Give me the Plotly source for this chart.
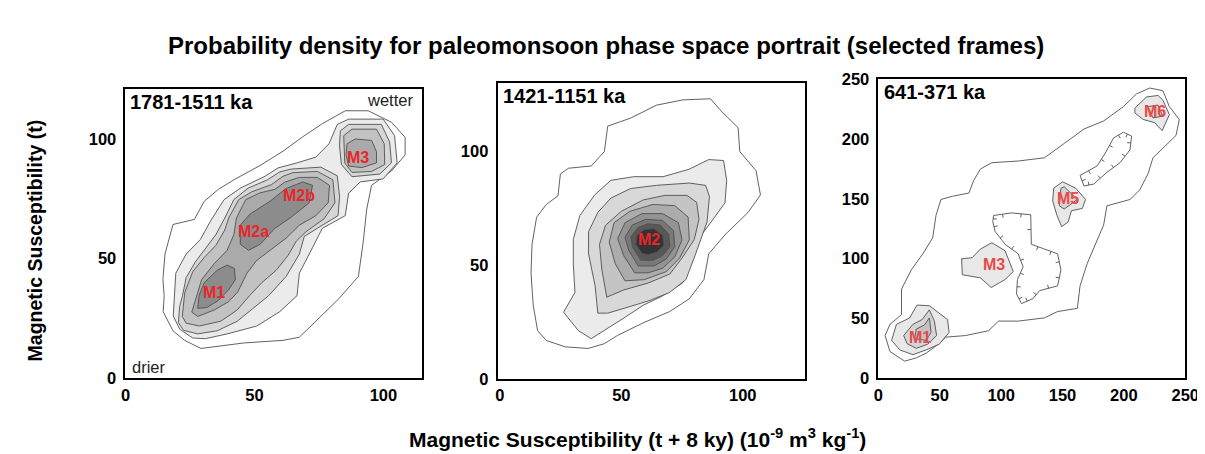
import plotly.graph_objects as go

# ---------------- DATA ----------------
# Panel 1: 1781-1511 ka  (contour outlines, outermost -> innermost)
P1_L1 = [(29.3,12.4),(22.9,15.8),(18.4,19.8),(14.6,27.8),(15.0,34.5),(14.5,41.2),(15.3,51.9),(18.4,64.3),
         (26.7,66.4),(30.5,74),(36,79),(42,83),(52.2,89),(61.1,95),(68.7,101),(76.3,106.5),(85.2,111.9),
         (94.1,111.9),(103.1,107.1),(108.4,100.8),(108.4,93.4),(103.1,86.7),(95.4,80.7),(93.5,70.7),
         (92.2,57.3),(90.3,42.6),(82.7,33.2),(73.8,23.8),(67.4,17.1),(61.1,15.8),(45.8,14.7)]
P1_L2 = [(26,16.8),(21,20.5),(18.5,26),(19,34.5),(19.5,43.9),(23.5,51.9),(29,58),(33.1,66),(38.2,74.7),
         (44.5,79.5),(54.1,84.5),(59.2,88),(66.2,90),(73.8,92.5),(78.9,98.1),(82.1,106.2),(86.5,108.4),
         (99.9,108.4),(104.3,101.5),(105.3,90.1),(99.9,83.4),(91,82.1),(86.5,77.4),(85.2,68),(76.3,62.7),
         (72.5,54.6),(67.4,43.9),(66.5,34.5),(59.8,27.8),(50.9,21.8),(39.4,18.5),(31,16.5)]
P1_L3 = [(20.5,23.2),(21,30),(22.1,34.5),(23.5,42),(27,48.5),(31,54),(35,60),(38.5,67),(42,74.7),
         (47.5,79.5),(55,83),(59.8,86.3),(64.2,87.5),(75.7,88.3),(82.1,84.7),(83,76),(82.4,68),(76.3,64),
         (69.3,59.3),(67.4,51.9),(62.3,42.6),(55.5,34.5),(49.6,29.2),(43.3,23.8),(35.6,19.8),(28,18.5),(22.5,20)]
P1_L3_M3 = [(83.3,103.5),(86.5,106.2),(99.2,106.2),(102.4,98.8),(103.1,90.1),(98.6,85.4),(87.8,84.3),
            (83.7,89.4),(82.95,97.5)]
P1_L4 = [(22,25.8),(23,35.9),(26.1,44.6),(30.5,50.5),(35,55.5),(38.5,62),(40,67),(43.9,74.7),(49,78),
         (56.6,81),(61.1,84.5),(64.9,86),(74.4,86.5),(80.4,83),(81.2,73.4),(77,66.7),(70,61.3),(66.2,57.3),
         (63,51.3),(58.5,45.2),(52.8,39.9),(48.1,34.5),(43.3,28.5),(36.9,23.8),(28.6,21.8),(23.5,23)]
P1_L4_M3 = [(84.6,101.5),(87.8,104.2),(97.3,104.2),(100.3,98.1),(100.5,89.4),(95.4,86.5),(87.8,86.1),(85.0,90.1)]
P1_L5 = [(25.7,27.6),(27.5,34.5),(29.5,41.2),(34.4,47.9),(39.4,53.5),(42,60),(43,67),(46.6,74.7),(52,77.5),
         (57.9,79),(61.7,82),(67.4,84),(74.4,84),(79.1,80.7),(78.6,73.4),(73.8,68),(67.4,64),(62.3,58.6),
         (57.3,54.6),(50.9,49.3),(47.1,43.9),(43.5,36),(40,32),(34.4,28.5),(28,25.8)]
P1_L5_M3 = [(85.9,98.1),(89.1,100.1),(95.4,99.5),(97.3,94.8),(97.3,90.1),(91.6,88.1),(86.5,88.8),(85.5,93.4)]
P1_L6_M1 = [(28,29.2),(28.5,34.5),(30.5,39.9),(35.6,45.2),(39.4,47.3),(42.2,45.9),(42.6,41.2),(40,37),
            (36,32.5),(31.5,29.5)]
P1_L6_M2 = [(44.5,56),(47.7,53.5),(52.2,56),(57.9,62.7),(64.2,67.3),(71.2,73.4),(72.5,80.7),(68.7,82.1),
            (62.3,79.4),(56,74),(48.3,68.7),(44.5,64)]

# Panel 2: 1421-1151 ka
P2_L1 = [(44.4,110.9),(53.8,114.4),(64.5,120.1),(75.3,122.4),(86.7,122.9),(91.4,117.2),(98.1,110.2),
         (98.8,99.7),(105.5,91.3),(107.3,80.7),(102.2,73.0),(92.7,63.2),(86.0,54.8),(84.0,43.5),(78.0,35.1),
         (69.9,29.5),(59.1,24.6),(48.4,19.0),(43.0,15.4),(36.3,13.3),(26.9,14.0),(19.1,16.8),(15.5,21.1),
         (13.7,32.3),(12.8,46.3),(13.2,59.0),(15.1,70.9),(19.1,76.5),(23.9,80.3),(24.9,89.9),(28.2,92.4),
         (37.6,93.4),(43.0,99.7),(44.1,108.1)]
P2_L2 = [(26.2,29.2),(30.9,37.9),(30.2,50.5),(30.2,61.1),(32.9,71.6),(39.0,80.7),(45.7,87.1),(55.1,88.7),
         (67.2,88.7),(78.0,92.0),(86.0,96.2),(92.1,95.8),(93.4,87.1),(92.7,77.2),(86.0,67.4),(80.0,59.0),
         (78.0,49.1),(75.3,42.1),(67.2,36.5),(59.1,32.3),(51.1,26.7),(45.0,22.5),(37.6,17.6),(32.3,21.1)]
P2_L3 = [(40.3,28.8),(39.2,40.7),(36.5,54.8),(36.5,64.6),(40.3,73.0),(45.7,79.3),(53.8,83.5),(64.5,84.9),
         (78.0,85.9),(84.7,84.9),(86.3,80.0),(85.3,68.8),(80.6,54.8),(76.6,43.5),(69.9,37.9),(61.8,34.4),
         (51.1,30.9),(44.4,28.8)]
P2_L4 = [(44,35.8),(42,47.7),(41,59),(43.5,67.4),(50,73.5),(59,78.5),(68,80.5),(77,80.5),(81,77.5),(82,70),
         (80,61),(75,53),(70,46),(61,42),(51,39)]
P2_L5 = [(51.5,43),(47.5,50.5),(45,60),(47,68.5),(53.5,73.5),(63,76.5),(72,76),(77.5,71),(78,61),(74,53),
         (68.5,47),(59.5,43.5)]
P2_L6 = [(55.5,46.5),(51,54),(48.5,61.5),(51.5,68.5),(58.5,72.5),(67,72.5),(73.5,68.5),(75,61),(72,53.5),
         (67,48.5),(61,46.5)]
P2_L7 = [(57,49.5),(53,56.5),(51.5,62),(54.5,67.5),(60,70),(67,69.5),(71.5,65),(72,58),(68.5,52.5),(63.5,49.5)]
P2_L8 = [(58,52),(54.5,58),(54,62.5),(57,66.5),(61,68),(66,67.5),(69.5,63.5),(70,58),(67,54),(63,52)]
P2_L9 = [(58.5,55),(56,59),(56.5,63),(59.5,65.5),(63.5,65.8),(67,63),(67.5,58.5),(64.5,55.5),(61,54.5)]

# Panel 3: 641-371 ka
P3_L1 = [(21.4,14.2),(9.4,22.2),(5.4,35.6),(9.4,45.0),(18.8,53.1),(18.8,74.5),(26.8,90.6),(36.2,104.0),
         (44.2,117.4),(46.9,136.1),(50.9,149.5),(60.3,152.2),(73.7,154.9),(77.7,165.6),(83.1,175.0),
         (92.4,180.3),(113.9,181.7),(135.3,184.4),(151.4,196.4),(167.5,208.5),(183.5,215.2),(199.6,227.2),
         (210.3,237.9),(221.1,242.8),(231.8,240.6),(237.1,227.2),(245.2,216.5),(242.5,203.1),(231.8,192.4),
         (223.7,184.4),(219.7,171.0),(213.0,157.6),(205.0,149.5),(186.2,144.2),(183.5,128.1),(176.8,112.0),
         (170.1,95.9),(164.3,77.2),(162.1,58.4),(146.0,55.7),(135.3,50.4),(113.9,47.7),(97.8,47.7),
         (89.8,39.7),(71.0,35.6),(54.9,34.3),(49.6,28.9),(38.9,20.9),(30.8,16.9)]
P3_L2_M1 = [(10.7,31.6),(14.7,45.0),(25.5,50.4),(31.4,61.1),(41.5,60.6),(56.3,49.0),(57.6,38.3),(49.6,28.4),
            (38.9,23.6),(28.1,19.6),(17.4,23.6)]
P3_L3_M1 = [(20.6,35.6),(28.1,45.0),(35.6,49.0),(41.5,57.1),(45.6,47.7),(47.4,35.6),(40.2,28.4),(30.8,24.9),
            (23.3,28.9)]
P3_L4_M1 = [(29.5,33.0),(30.8,41.0),(37.5,44.5),(41.5,50.4),(42.9,38.3),(38.9,31.6)]
P3_L2_M3 = [(67.8,99.9),(76.4,100.8),(83.1,108.0),(92.4,113.3),(103.2,106.6),(109.9,89.2),(103.2,82.5),
            (91.9,75.8),(83.1,83.9),(68.3,86.5)]
P3_L2_M5 = [(142.8,158.9),(150.1,164.3),(160.8,158.9),(168.8,149.5),(166.2,142.0),(157.3,140.1),(154.6,130.8),
            (149.3,126.7),(145.5,136.1),(142.0,148.2)]
P3_L3_M5 = [(148.7,158.9),(151.4,160.2),(162.1,149.5),(151.4,141.5),(147.4,144.2)]
P3_L2_M6 = [(209.0,225.9),(218.4,235.3),(227.8,236.6),(231.8,232.6),(237.1,220.5),(231.2,207.1),(225.1,213.8),
            (215.7,216.5),(209.0,221.9)]
P3_L3_M6 = [(219.7,227.2),(227.8,228.6),(231.8,219.2),(223.7,217.8)]
P3_LOW_A = [(93.8,136.1),(108.5,138.3),(124.1,136.7),(124.6,112.0),(135.3,108.0),(146.0,104.0),(148.7,90.6),
            (146.0,77.2),(131.3,73.2),(125.9,66.5),(116.6,62.4),(112.5,70.5),(113.3,82.5),(117.9,93.2),
            (113.9,104.0),(103.2,112.0),(95.1,122.7),(93.2,130.8)]
P3_LOW_B = [(164.3,169.6),(178.2,177.6),(184.9,188.4),(191.6,201.0),(199.6,205.8),(206.3,202.6),(205.0,191.0),
            (196.9,180.3),(186.2,172.3),(175.5,162.4),(167.5,160.8)]

# Fill shades per contour level
SHADES_P1 = ["#ffffff", "#ebebeb", "#d6d6d6", "#c2c2c2", "#aaaaaa", "#8c8c8c"]
SHADES_P2 = ["#ffffff", "#ebebeb", "#d8d8d8", "#c4c4c4", "#acacac", "#939393", "#787878", "#585858", "#333333"]
SHADES_P3 = ["#ffffff", "#e8e8e8", "#d4d4d4", "#c2c2c2"]

PANEL_TITLES = ["1781-1511 ka", "1421-1151 ka", "641-371 ka"]
MODE_LABELS = [
    (1, "M1", 34.4, 35.9), (1, "M2a", 49.6, 61.3), (1, "M2b", 67.4, 76.3), (1, "M3", 90.3, 92.4),
    (2, "M2", 61.2, 61.1),
    (3, "M1", 33.5, 33.8), (3, "M3", 93.8, 95.4), (3, "M5", 154.1, 150.1), (3, "M6", 225.1, 223.2),
]
X_RANGES = [[0, 115], [-1, 125.5], [0, 250]]
Y_RANGES = [[0, 121], [0, 130], [0, 250]]
TICKS = [[0, 50, 100], [0, 50, 100], [0, 50, 100, 150, 200, 250]]

# ---------------- FIGURE ----------------
W, H = 1205, 454
FONT = "Arial, Liberation Sans, sans-serif"
fig = go.Figure()

def poly(pts, fill, axis, lw=0.9):
    xs = [p[0] for p in pts] + [pts[0][0]]
    ys = [p[1] for p in pts] + [pts[0][1]]
    fig.add_trace(go.Scatter(x=xs, y=ys, mode="lines", fill="toself", fillcolor=fill,
                             line=dict(color="#505050", width=lw), hoverinfo="skip",
                             showlegend=False, xaxis="x" + axis, yaxis="y" + axis))

def hachure(pts, length, axis):
    n = len(pts)
    area = sum(pts[i][0] * pts[(i + 1) % n][1] - pts[(i + 1) % n][0] * pts[i][1] for i in range(n)) / 2
    sgn = 1 if area > 0 else -1
    xs, ys = [], []
    for i in range(n):
        x0, y0 = pts[i]
        x1, y1 = pts[(i + 1) % n]
        mx, my = (x0 + x1) / 2, (y0 + y1) / 2
        dx, dy = x1 - x0, y1 - y0
        L = (dx * dx + dy * dy) ** 0.5
        nx, ny = -dy / L * sgn, dx / L * sgn
        xs += [mx, mx + nx * length, None]
        ys += [my, my + ny * length, None]
    fig.add_trace(go.Scatter(x=xs, y=ys, mode="lines", line=dict(color="#505050", width=0.9),
                             hoverinfo="skip", showlegend=False, xaxis="x" + axis, yaxis="y" + axis))

# panel 1
for pts, lvl in [(P1_L1, 0), (P1_L2, 1), (P1_L3, 2), (P1_L3_M3, 2), (P1_L4, 3), (P1_L4_M3, 3),
                 (P1_L5, 4), (P1_L5_M3, 4), (P1_L6_M1, 5), (P1_L6_M2, 5)]:
    poly(pts, SHADES_P1[lvl], "")
# panel 2
for lvl, pts in enumerate([P2_L1, P2_L2, P2_L3, P2_L4, P2_L5, P2_L6, P2_L7, P2_L8, P2_L9]):
    poly(pts, SHADES_P2[lvl], "2")
# panel 3
for pts, lvl in [(P3_L1, 0), (P3_L2_M1, 1), (P3_L3_M1, 2), (P3_L4_M1, 3), (P3_L2_M3, 1),
                 (P3_L2_M5, 1), (P3_L3_M5, 2), (P3_L2_M6, 1), (P3_L3_M6, 2)]:
    poly(pts, SHADES_P3[lvl], "3")
for pts in [P3_LOW_A, P3_LOW_B]:
    poly(pts, "#ffffff", "3")
    hachure(pts, 3.0, "3")

# axes layout
doms_x = [[114.3 / W, 415.7 / W], [492.3 / W, 804.3 / W], [879.3 / W, 1191 / W]]
doms_y = [[1 - 376 / H, 1 - 75 / H], [1 - 376.7 / H, 1 - 68.3 / H], [1 - 376 / H, 1 - 65 / H]]
tickfont = dict(family=FONT, size=16.5, color="black", weight="bold")
layout = {}
for i in range(3):
    sfx = "" if i == 0 else str(i + 1)
    layout["xaxis" + sfx] = dict(domain=doms_x[i], range=X_RANGES[i], anchor="y" + sfx,
                                 showgrid=False, zeroline=False, showline=True, mirror=True,
                                 linecolor="black", linewidth=1.8, ticks="", tickvals=TICKS[i],
                                 tickfont=tickfont, ticklabelstandoff=1)
    layout["yaxis" + sfx] = dict(domain=doms_y[i], range=Y_RANGES[i], anchor="x" + sfx,
                                 showgrid=False, zeroline=False, showline=True, mirror=True,
                                 linecolor="black", linewidth=1.8, ticks="", tickvals=TICKS[i],
                                 tickfont=tickfont, ticklabelstandoff=4)

ann = []
for i, t in enumerate(PANEL_TITLES):
    sfx = "" if i == 0 else str(i + 1)
    ann.append(dict(text=t, xref=("x" + sfx) + " domain", yref=("y" + sfx) + " domain", x=0.01, y=1.0,
                    xanchor="left", yanchor="top", showarrow=False,
                    font=dict(family=FONT, size=20, color="black", weight="bold")))
ann.append(dict(text="wetter", xref="x domain", yref="y domain", x=0.975, y=1.0, xanchor="right",
                yanchor="top", showarrow=False, font=dict(family=FONT, size=16.5, color="#222")))
ann.append(dict(text="drier", xref="x domain", yref="y domain", x=0.015, y=0.0, xanchor="left",
                yanchor="bottom", showarrow=False, font=dict(family=FONT, size=16.5, color="#222")))
for panel, lab, x, y in MODE_LABELS:
    sfx = "" if panel == 1 else str(panel)
    ann.append(dict(text=lab, xref="x" + sfx, yref="y" + sfx, x=x, y=y, showarrow=False,
                    font=dict(family=FONT, size=16, color="#e8262b" if panel < 3 else "#e84a4a",
                              weight="bold")))
ann.append(dict(text="Probability density for paleomonsoon phase space portrait (selected frames)",
                xref="paper", yref="paper", x=602 / W, y=1 - 30 / H, xanchor="center", yanchor="middle",
                showarrow=False, font=dict(family=FONT, size=24, color="black", weight="bold")))
ann.append(dict(text="Magnetic Susceptibility (t)", xref="paper", yref="paper", x=22 / W, y=1 - 233 / H,
                textangle=-90, xanchor="center", yanchor="middle", showarrow=False,
                font=dict(family=FONT, size=19.5, color="black", weight="bold")))
ann.append(dict(text="Magnetic Susceptibility (t + 8 ky) (10<sup>-9</sup> m<sup>3</sup> kg<sup>-1</sup>)",
                xref="paper", yref="paper", x=635 / W, y=1 - 438 / H, xanchor="center", yanchor="middle",
                showarrow=False, font=dict(family=FONT, size=21, color="black", weight="bold")))

fig.update_layout(width=W, height=H, margin=dict(l=0, r=0, t=0, b=0), plot_bgcolor="white",
                  paper_bgcolor="white", annotations=ann, showlegend=False, **layout)
fig.write_html("out.html")
